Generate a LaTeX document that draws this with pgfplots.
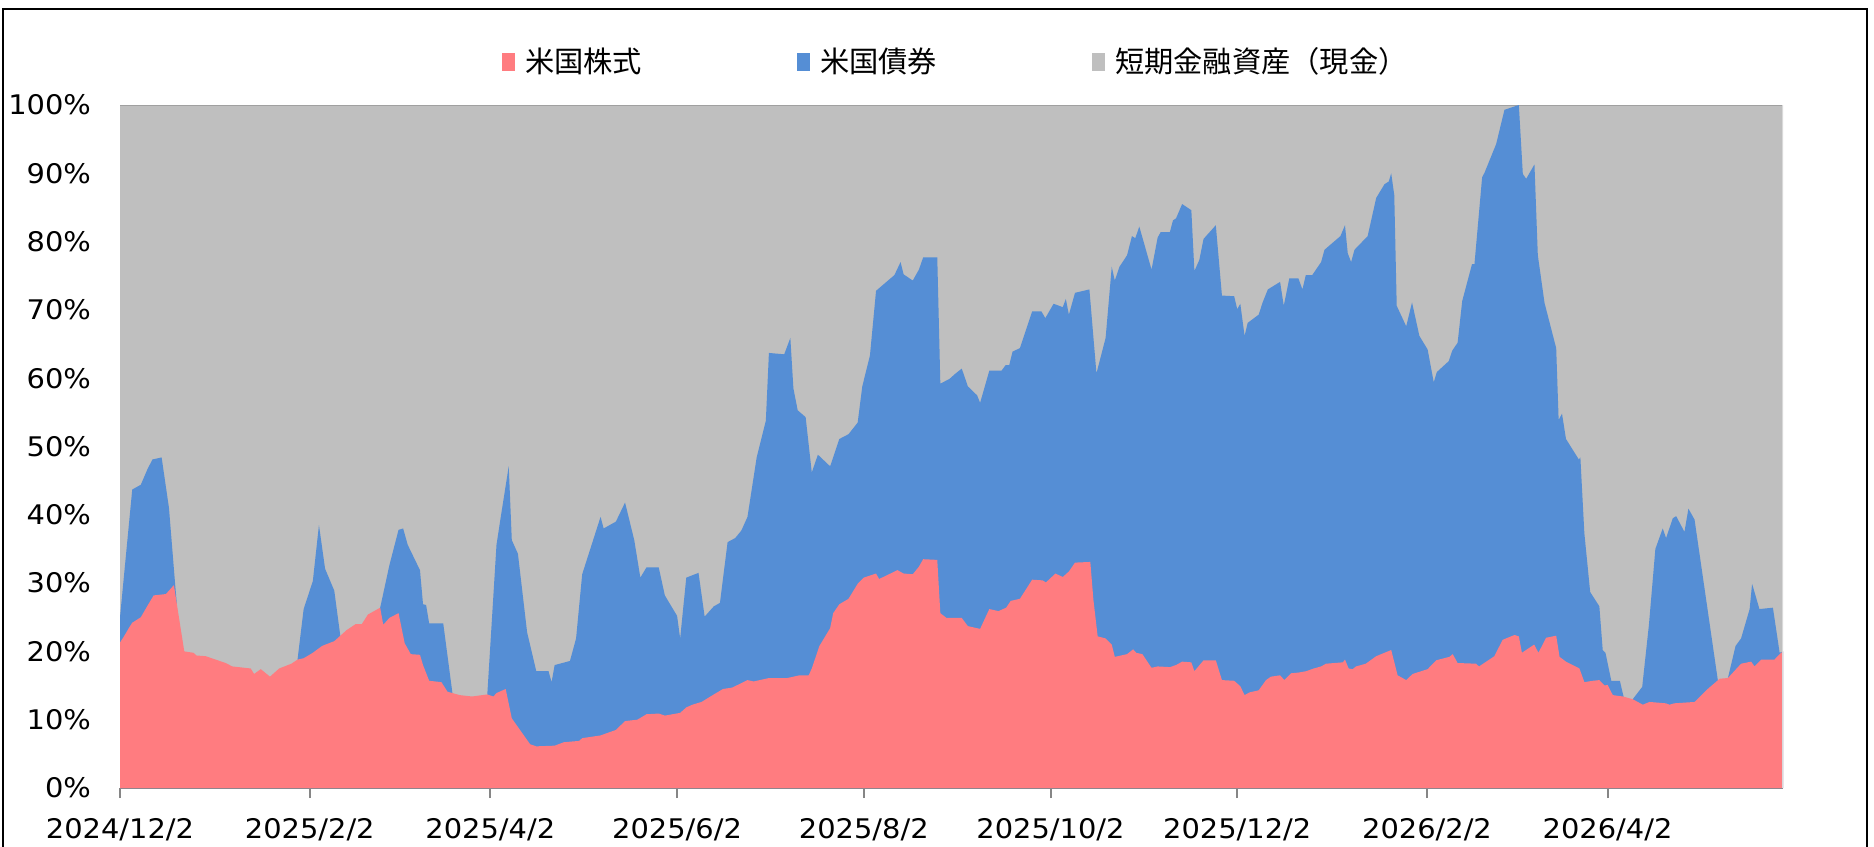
\documentclass[border=0pt]{standalone}
\usepackage{fontspec}
\setmainfont{DejaVu Sans}
\newfontfamily\tickfont[FakeStretch=1.07]{DejaVu Sans}
\newfontfamily\cjk{Noto Sans CJK JP}
\usepackage{pgfplots}
\pgfplotsset{compat=1.18}
\definecolor{cPink}{HTML}{FF7C80}
\definecolor{cBlue}{HTML}{558ED5}
\definecolor{cGray}{HTML}{BFBFBF}
\definecolor{cAxis}{HTML}{868686}
\definecolor{cTop}{HTML}{A0A0A0}
\definecolor{cRight}{HTML}{D9D9D9}

% x = days since 2024/12/2
% stock share (%)
\pgfplotstableread{
x y
0 21.3
1.3 22.2
3 23.5
4 24.2
6.8 25.0
9 26.7
11 28.2
15 28.4
17.6 29.7
21 20.0
24 19.8
25 19.4
28 19.3
34.5 18.3
36.7 17.8
42.7 17.5
43.8 16.7
46 17.4
49 16.3
52 17.5
56 18.2
58 18.8
60 19.0
63 19.8
66 20.8
70 21.5
74 23.1
77 24.0
79 24.0
81 25.4
85 26.4
86 23.9
88 24.9
91 25.6
93 21.2
95 19.6
98 19.5
99 18.0
101 15.7
105 15.5
107 14.1
111 13.6
115 13.4
120 13.7
122 13.4
123 13.9
126 14.5
128 10.2
134 6.4
136 6.1
142 6.2
145 6.7
150 6.9
151 7.3
157 7.7
162 8.5
165 9.8
169 10.0
172 10.8
176 10.9
178 10.6
183 11.0
185 11.8
187 12.2
190 12.6
194 13.7
197 14.5
200 14.7
205 15.8
207 15.6
212 16.1
218 16.1
220 16.3
222 16.5
225 16.5
226 17.5
228.5 20.8
232 23.4
233 25.6
235 26.9
238 27.7
241 29.9
243 30.8
247 31.4
248 30.6
254 31.9
256 31.4
259 31.3
261 32.4
262.4 33.5
267 33.4
268 25.6
270 24.9
275 24.9
277 23.7
281 23.3
284 26.2
287 25.9
289.5 26.4
291 27.4
294 27.7
298 30.5
301.4 30.4
302.5 30.1
305.6 31.4
308 30.9
310 31.7
312 33.0
317 33.1
318 27.6
319.4 22.2
322 21.9
324 21.0
325 19.2
329 19.6
331 20.3
332 19.8
334 19.6
337 17.6
339 17.8
343 17.7
345 18.0
347 18.5
350 18.4
351 17.1
354 18.7
358 18.7
360 15.8
364 15.7
366 14.9
367.4 13.6
369 14.0
372 14.3
374.4 15.8
376 16.3
379 16.5
380.4 15.8
382.6 16.8
385 16.9
387.5 17.1
390 17.5
392.4 17.8
394 18.2
399.5 18.4
400.2 18.8
401.4 17.5
402.7 17.4
403.8 17.8
407 18.2
410.4 19.3
415.3 20.2
417.4 16.5
420.2 15.8
422.3 16.7
427.2 17.4
430 18.7
434.3 19.2
435.4 19.6
437 18.3
443 18.2
444 17.8
449 19.3
451.7 21.7
455.6 22.4
457 22.2
458 19.8
462 21.0
463.4 19.8
465.9 22.0
469.2 22.3
470.3 19.2
472.4 18.5
476.8 17.5
478.4 15.5
481.2 15.7
483.3 15.8
485 15.0
486 15.1
487.7 13.6
491 13.4
494.2 13.0
497.5 12.2
499.7 12.6
505 12.4
506.2 12.2
507.8 12.4
514.4 12.6
518.7 14.5
522.6 16.0
525.3 16.1
529.6 18.2
532.9 18.5
534 17.8
536.2 18.8
540.5 18.8
542.2 19.6
543.3 20.0
}\stocks

% stock + bond share (%), upper edge of the bond band
\pgfplotstableread{
x y
0 25.0
4 43.7
6.8 44.4
9 46.7
10.6 48.1
13.6 48.4
16 41.0
18 29.9
18.6 26.8
19 15
57.5 15
58 18.8
60 26.2
63 30.3
65 38.5
67 32.1
70 28.9
72 22.2
72.5 15
84.5 15
85 26.4
88 32.6
91 37.8
92.5 38.0
94 35.6
98 31.9
99 26.9
100 26.8
101 24.1
105.6 24.1
108.6 13.9
109 10
119.5 10
120 13.7
123 35.6
124.4 39.7
127 47.1
128 36.3
130 34.3
133 22.8
136 17.1
140 17.1
141 15.5
142 18.0
147 18.6
149 21.9
151 31.3
157 39.7
158 38.0
162 39.0
165 41.8
168 36.3
170 30.8
172 32.3
176 32.3
178 28.2
182 25.2
183 21.9
185 30.8
189 31.5
191 25.1
194 26.6
196 27.1
198.5 36.0
201 36.6
203 37.7
205 39.7
208 48.4
211 53.8
212 63.7
217 63.5
219 65.9
220 58.5
221.4 55.3
224 54.3
226 46.2
228 48.8
232 47.1
235 51.1
238 51.8
241 53.5
242.5 58.8
245 63.3
247 72.8
253 75.1
255 77.0
256 75.2
259 74.3
261 75.9
262.4 77.7
267 77.7
268 59.2
271 59.9
273 60.7
275 61.4
277 58.8
280 57.5
281 56.4
284 61.1
288 61.1
289.3 61.9
290.5 61.9
291.6 63.9
294 64.4
298 69.8
301 69.8
302.3 68.8
305 70.9
308 70.4
309 71.6
310 69.3
312 72.5
316.7 73.0
319 60.7
322 65.9
324 76.3
325 74.3
326.5 76.3
329 78.0
330.6 80.8
331.7 80.5
333 82.2
337 75.9
339 80.6
340 81.4
343 81.4
344 83.1
345 83.4
347 85.5
350 84.6
351 75.7
352.6 77.3
354 80.4
358 82.4
360 72.1
364 72.0
365 70.1
366 70.9
367.4 66.2
368.4 68.1
372 69.3
373.3 71.1
375 73.0
379 74.1
380.2 70.6
382 74.6
385 74.6
386.3 73.0
387.4 75.1
389.5 75.1
392.4 77.0
393.5 78.8
398.7 80.8
400.2 82.4
401.1 78.3
402.2 77.0
403.3 78.8
407.6 80.8
410.4 86.4
413.1 88.4
414.5 88.8
415.3 90.0
416.3 86.8
417.1 70.6
420.2 67.6
422.1 71.1
424.5 66.2
427.2 64.2
429.2 59.4
430.2 60.9
434.1 62.5
435.2 64.0
437 65.2
438.5 71.3
441.7 76.7
442.5 76.7
445 89.4
445.8 90.1
449.6 94.3
452.3 99.3
457 100
458.3 89.9
459.4 89.2
462.1 91.3
463.2 78.0
465.4 71.0
469.2 64.4
470 53.9
471.1 54.8
472.4 51.1
476.6 48.1
477.1 48.4
478.4 37.3
480.3 28.7
483.3 26.6
484.4 20.2
485.3 19.8
487.2 15.7
490 15.7
491.2 13.4
491.6 10
494 10
494.2 13.0
497.3 14.8
499.5 23.9
501.6 35.0
504 38.0
505.1 36.6
507.3 39.5
508.4 39.8
511.1 37.5
512.4 40.9
514.4 39.3
522 15.8
522.4 10
525 10
525.3 16.1
527.8 20.8
529.6 21.9
532.4 26.2
533.2 29.9
535.6 26.2
540 26.4
542.2 19.8
543.3 20.0
}\stockbond

% stock + bond + cash (%)
\pgfplotstableread{
x y
0 100
543.3 100
}\total

\begin{document}
\begin{tikzpicture}
\path[use as bounding box] (0,0) rectangle (749.6pt,338.4pt);
\draw[black, line width=0.8pt] (1.1pt,-5pt) -- (1.1pt,334.8pt) -- (746.8pt,334.8pt) -- (746.8pt,-5pt);
\begin{axis}[
  at={(48pt,23.2pt)}, anchor=south west,
  scale only axis, width=665.2pt, height=273.2pt,
  xmin=0, xmax=543.3, ymin=0, ymax=100,
  axis x line*=bottom, axis y line*=left,
  x axis line style={draw=cAxis, line width=0.8pt, -},
  y axis line style={draw=none},
  tick align=outside, major tick length=4pt,
  xtick style={draw=cAxis, line width=0.8pt},
  ytick style={draw=none},
  xtick={0,62,121,182,243,304,365,427,486},
  xticklabels={2024/12/2,2025/2/2,2025/4/2,2025/6/2,2025/8/2,2025/10/2,2025/12/2,2026/2/2,2026/4/2},
  ytick={0,10,20,30,40,50,60,70,80,90,100},
  yticklabels={0\%,10\%,20\%,30\%,40\%,50\%,60\%,70\%,80\%,90\%,100\%},
  ticklabel style={font=\tickfont\fontsize{10.8}{13}\selectfont, text=black},
  yticklabel style={xshift=-4.1pt},
  xticklabel style={yshift=-4.5pt},
  legend style={at={(0.5035,1.063)}, anchor=center, draw=none, fill=none,
    font=\cjk\fontsize{11.7}{14}\selectfont,
    /tikz/every odd column/.append style={column sep=2pt},
    /tikz/every even column/.append style={column sep=60pt}},
  legend columns=-1,
  reverse legend,
  legend image code/.code={\fill[#1] (0.3pt,-3.6pt) rectangle (5.5pt,3.6pt);},
]
\addplot[fill=cGray, draw=none] table {\total} \closedcycle;
\addlegendentry{短期金融資産（現金）}
\draw[cTop, line width=0.8pt] (axis cs:0,100) -- (axis cs:543.3,100);
\addplot[fill=cBlue, draw=none] table {\stockbond} \closedcycle;
\addlegendentry{米国債券}
\addplot[fill=cPink, draw=none] table {\stocks} \closedcycle;
\addlegendentry{米国株式}
\draw[cRight, line width=0.6pt] (axis cs:543.3,0) -- (axis cs:543.3,100);
\end{axis}
\end{tikzpicture}
\end{document}
